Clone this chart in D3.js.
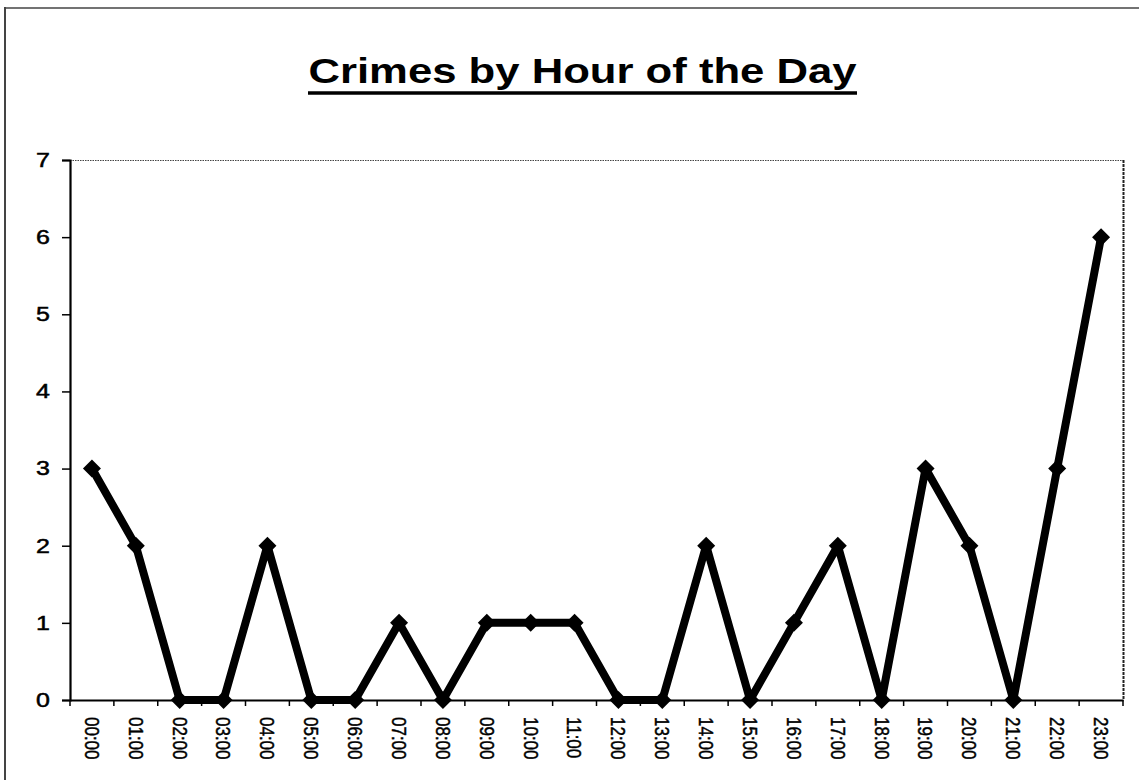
<!DOCTYPE html>
<html><head><meta charset="utf-8">
<script src="https://cdn.jsdelivr.net/npm/d3@7"></script>
<style>html,body{margin:0;padding:0;background:#fff;}svg{display:block;font-family:Arial,"Liberation Sans",sans-serif;}</style>
</head><body>
<svg id="chart" width="1139" height="780"></svg>
<script>
const hours = ["00:00","01:00","02:00","03:00","04:00","05:00","06:00","07:00","08:00","09:00","10:00","11:00","12:00","13:00","14:00","15:00","16:00","17:00","18:00","19:00","20:00","21:00","22:00","23:00"];
const crimes = [3,2,0,0,2,0,0,1,0,1,1,1,0,0,2,0,1,2,0,3,2,0,3,6];
const yTicks = [0,1,2,3,4,5,6,7];
const title = "Crimes by Hour of the Day";

const svg = d3.select("#chart");
const m = {left:70, top:160, right:1123, bottom:700};
const FONT = "Arial, 'Liberation Sans', sans-serif";

// frame: only left and top edges visible
svg.append("line").attr("x1",5).attr("x2",5).attr("y1",7).attr("y2",780).attr("stroke","#444").attr("stroke-width",2);
svg.append("line").attr("x1",5).attr("x2",1139).attr("y1",8).attr("y2",8).attr("stroke","#444").attr("stroke-width",1.5);

// title, stretched horizontally to match
const tg = svg.append("g");
const t = tg.append("text").attr("x",0).attr("y",0).attr("text-anchor","middle")
  .attr("font-size",35).attr("font-weight","bold").attr("fill","#000").attr("font-family",FONT).text(title);
const tb = t.node().getBBox();
const targetW = 549;
const sx = targetW / tb.width;
tg.attr("transform",`translate(582.5,83) scale(${sx},1)`);
svg.append("line").attr("x1",582.5-targetW/2).attr("x2",582.5+targetW/2).attr("y1",93).attr("y2",93)
  .attr("stroke","#000").attr("stroke-width",3.5);

const x = d3.scaleBand().domain(hours).range([m.left,m.right]);
const y = d3.scaleLinear().domain([0,7]).range([m.bottom,m.top]);

// plot border: top dotted, right dotted-dark
svg.append("line").attr("x1",m.left).attr("x2",m.right).attr("y1",m.top+0.5).attr("y2",m.top+0.5)
  .attr("stroke","#444").attr("stroke-width",1.2).attr("stroke-dasharray","1.5,1");
svg.append("line").attr("x1",m.right+0.5).attr("x2",m.right+0.5).attr("y1",m.top).attr("y2",m.bottom)
  .attr("stroke","#222").attr("stroke-width",2).attr("stroke-dasharray","3,1");

const yAxis = svg.append("g").attr("transform",`translate(${m.left},0)`)
  .call(d3.axisLeft(y).tickValues(yTicks).tickSize(8).tickPadding(12).tickFormat(d3.format("d")));
yAxis.select(".domain").attr("stroke","#000").attr("stroke-width",2.2);
yAxis.selectAll(".tick line").attr("stroke","#000").attr("stroke-width",1.5);
yAxis.selectAll(".tick text").attr("font-size",20).attr("fill","#000").attr("font-family",FONT)
  .attr("stroke","#000").attr("stroke-width",0.5)
  .each(function(){
    const tx = d3.select(this);
    const xx = +tx.attr("x");
    tx.attr("transform",`translate(${xx},0) scale(1.25,1) translate(${-xx},0)`);
  });

const xAxis = svg.append("g").attr("transform",`translate(0,${m.bottom})`)
  .call(d3.axisBottom(x).tickSize(0).tickSizeOuter(0));
xAxis.select(".domain").attr("stroke","#000").attr("stroke-width",2.2);
xAxis.selectAll(".tick text").attr("font-size",17).attr("fill","#000").attr("font-family",FONT)
  .attr("stroke","#000").attr("stroke-width",0.4)
  .attr("text-anchor","start").attr("dy","0.35em")
  .attr("transform","translate(0,17) scale(1.2,1) rotate(90)").attr("x",0).attr("y",0);
// tick marks between categories
const bounds = hours.map(h=>x(h)).concat([x(hours[hours.length-1])+x.bandwidth()]);
svg.append("g").selectAll("line").data(bounds).join("line")
  .attr("x1",d=>d).attr("x2",d=>d).attr("y1",m.bottom).attr("y2",m.bottom+6)
  .attr("stroke","#000").attr("stroke-width",1.5);

const cx = d => x(d.h)+x.bandwidth()/2;
const pts = hours.map((h,i)=>({h, v:crimes[i]}));
svg.append("path").datum(pts)
  .attr("d", d3.line().x(cx).y(d=>y(d.v)))
  .attr("fill","none").attr("stroke","#000").attr("stroke-width",8).attr("stroke-linejoin","miter").attr("stroke-miterlimit",2);
const r = 9;
svg.append("g").selectAll("path").data(pts).join("path")
  .attr("transform",d=>`translate(${cx(d)},${y(d.v)})`)
  .attr("d", `M0,${-r}L${r},0L0,${r}L${-r},0Z`)
  .attr("fill","#000");
</script>
</body></html>
